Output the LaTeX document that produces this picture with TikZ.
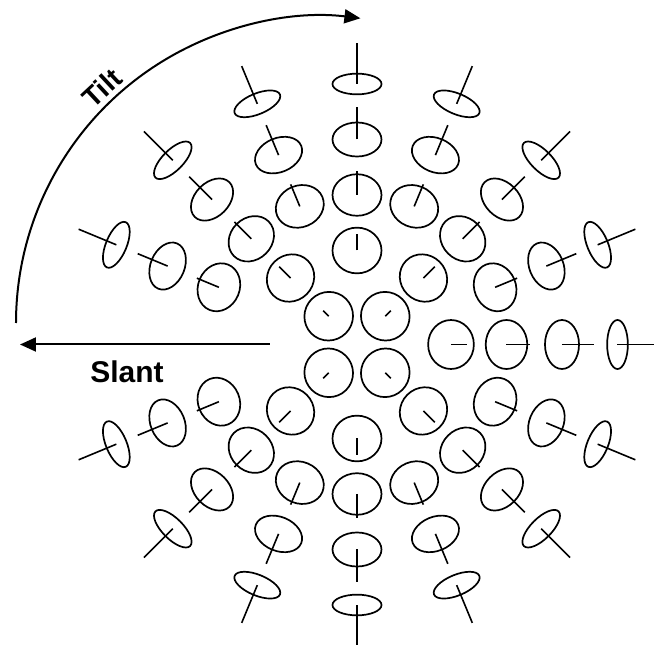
\documentclass[tikz,border=0pt]{standalone}
\usepackage{fontspec}
\setmainfont{Liberation Sans}
\usepackage{tikz}
\usetikzlibrary{arrows.meta}
\newcommand{\gauge}[3]{%
  \begin{scope}[shift={(#2:#1)},rotate=#2]
    \draw[disc] (0,0) ellipse[x radius={24.5*cos(#3)}, y radius=24.5];
    \draw[needle] (0,0) -- ({45*sin(#3)},0);
  \end{scope}}

\begin{document}
\begin{tikzpicture}[x=1pt,y=1pt,
  disc/.style={line width=1.7pt},
  needle/.style={line width=1.6pt},
  arr/.style={-{Triangle[length=16pt,width=14pt]},line width=2pt},
  lbl/.style={font=\fontsize{#1}{#1}\selectfont\bfseries,inner sep=0pt},
  lbl/.default=30]
\useasboundingbox (-357,-300.5) rectangle (297,344.5);
\foreach \t in {45,135,225,315} {\gauge{40}{\t}{10}}
\foreach \t in {0,45,90,135,225,270,315} {\gauge{94}{\t}{21}}
\foreach \r/\s in {149.5/32,205/46,260.5/65}
  {\foreach \t in {0,22.5,45,67.5,90,112.5,135,157.5,202.5,225,247.5,270,292.5,315,337.5}
    {\gauge{\r}{\t}{\s}}}
\coordinate (tiltstart) at (-341,21.5);
\coordinate (slantstart) at (-87,0);
\coordinate (slantend) at (-337,0);
\draw[arr] (tiltstart) arc[start angle=180,end angle=83,radius=307];
\draw[arr] (slantstart) -- (slantend);
\node[lbl=28,rotate=43] (tilt) at (-255,256.5) {Tilt};
\node[lbl] (slant) at (-230,-27) {Slant};
\end{tikzpicture}
\end{document}
